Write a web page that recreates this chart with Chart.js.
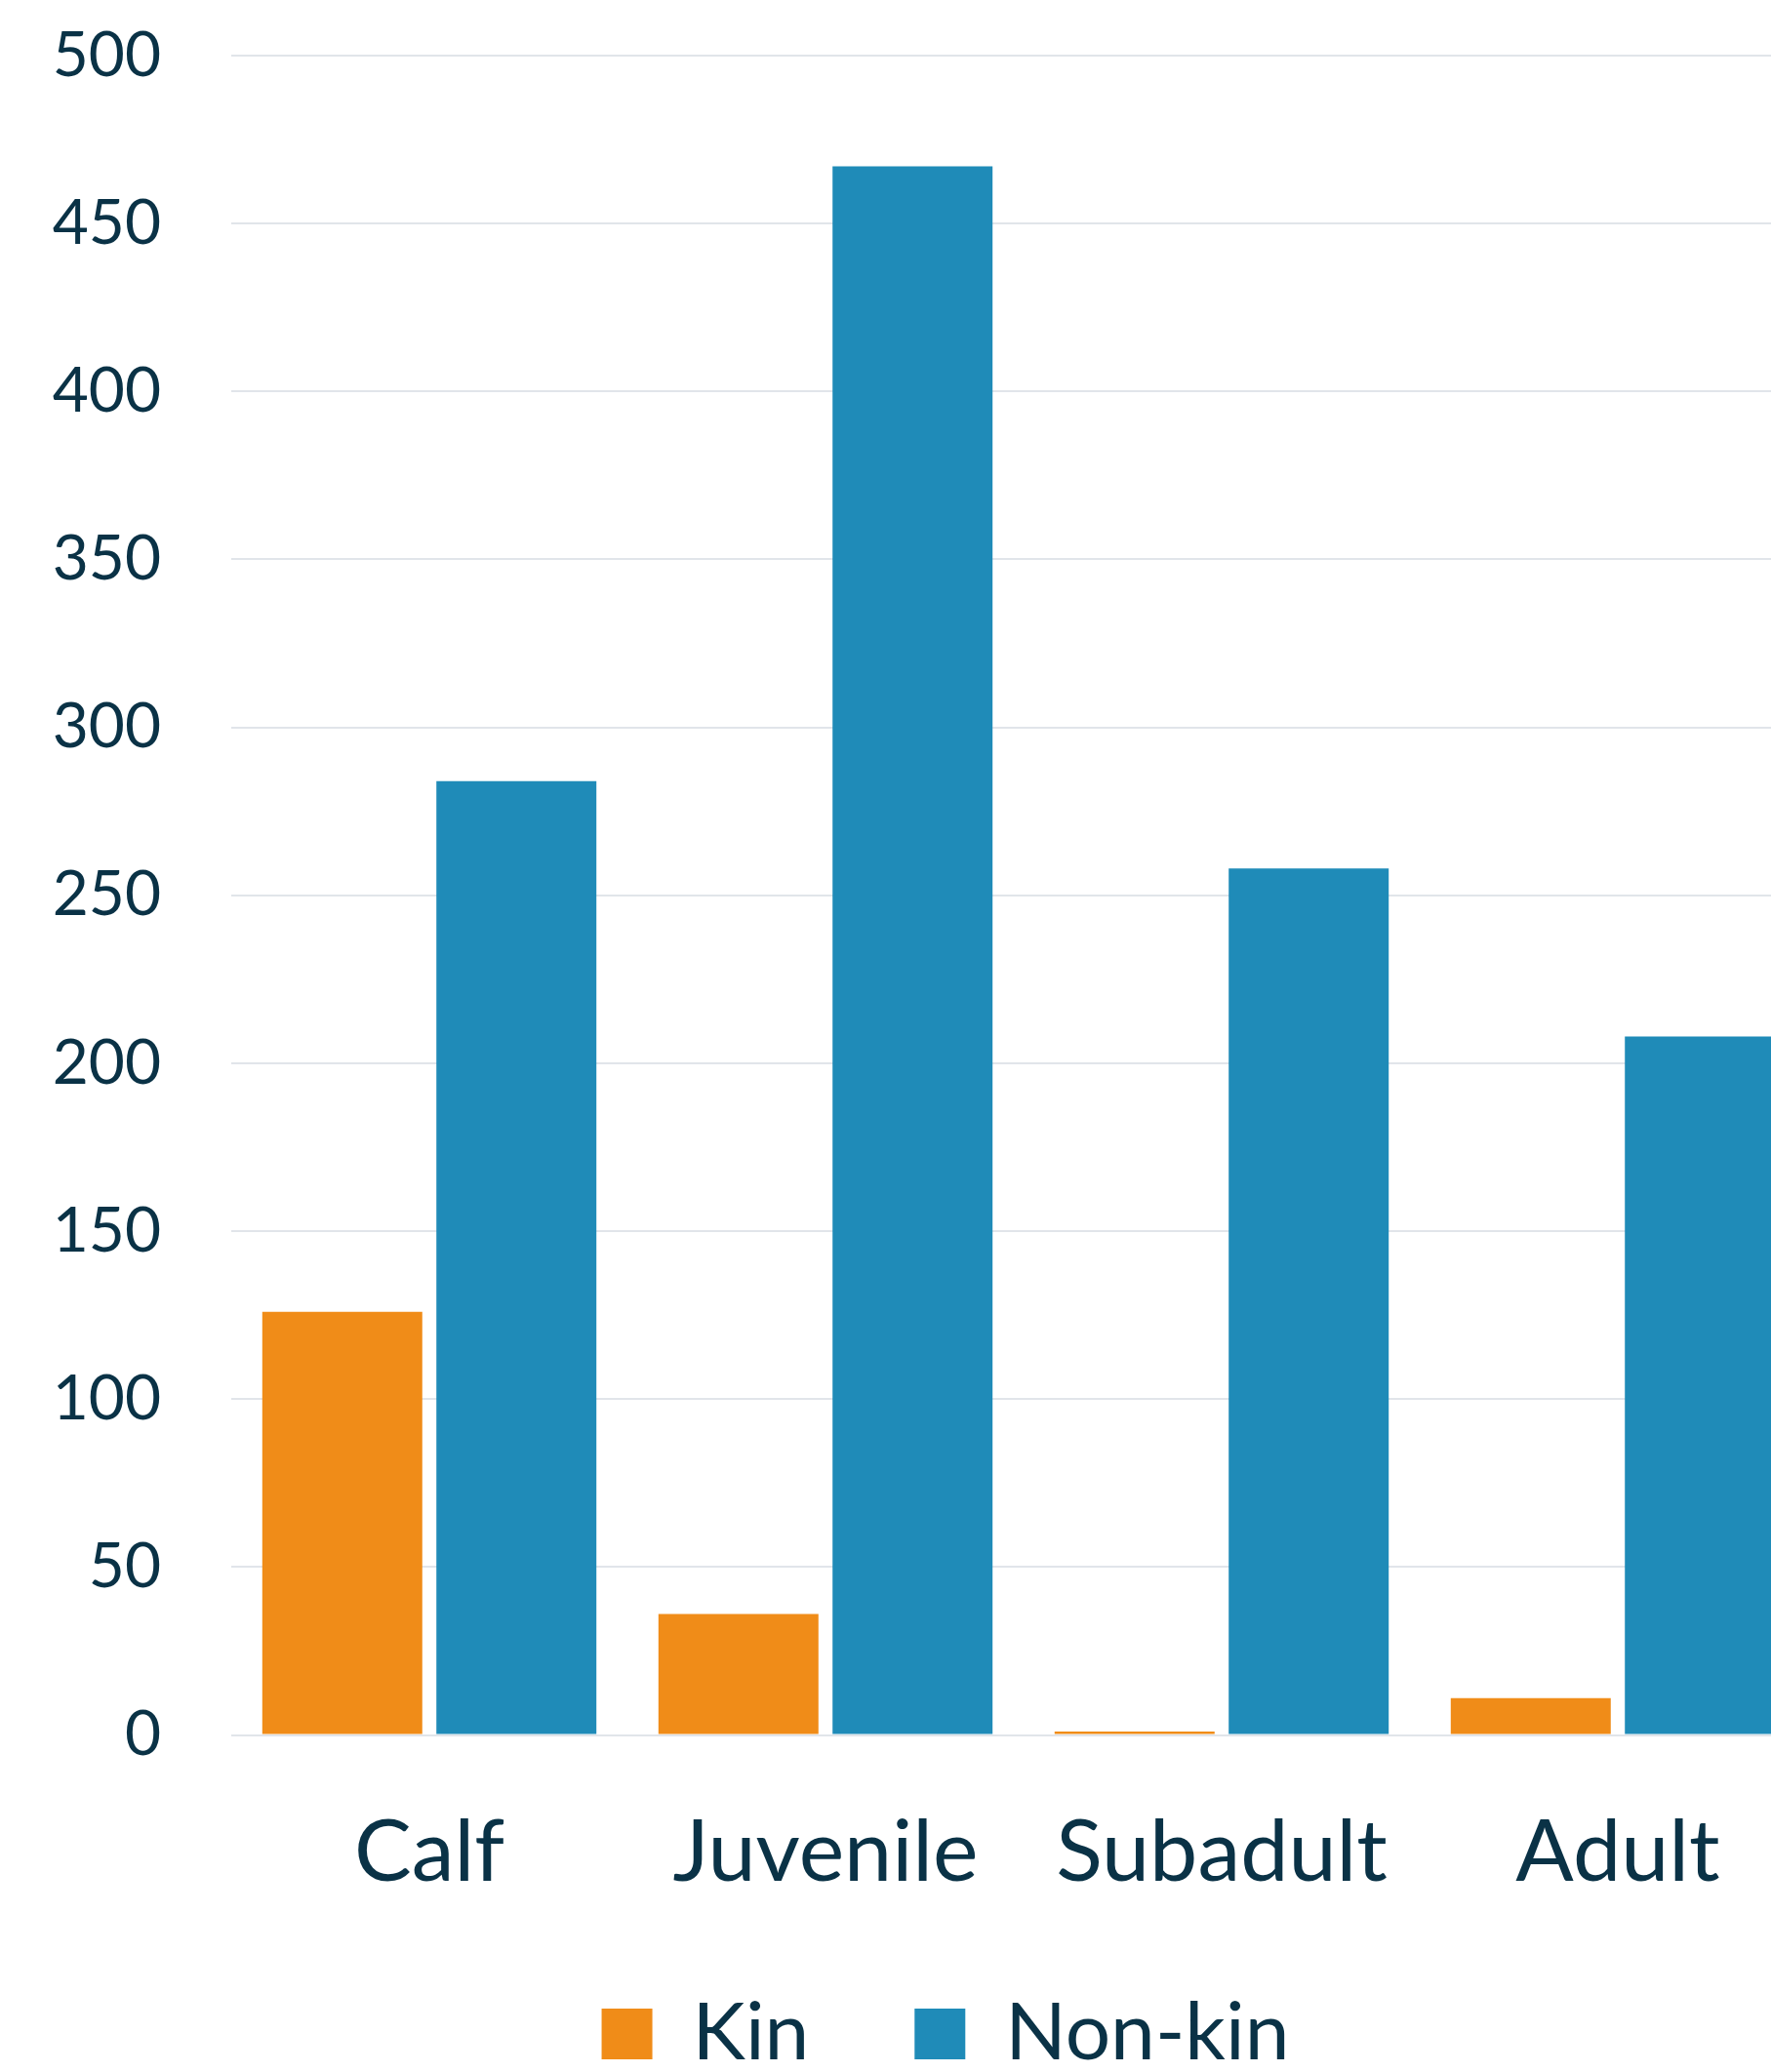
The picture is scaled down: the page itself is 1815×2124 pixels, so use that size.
<!DOCTYPE html>
<html>
<head>
<meta charset="utf-8">
<script src="https://cdn.jsdelivr.net/npm/chart.js@4.4.1/dist/chart.umd.min.js"></script>
<style>
    html, body { margin: 0; padding: 0; background: #ffffff; overflow: hidden; }
    #wrap { position: absolute; left: 0; top: 0; width: 1938px; height: 2124px; }
</style>
</head>
<body>
<div id="wrap"><canvas id="graficoParentesco"></canvas></div>
<script>
// categorias e valores
var categorias = ["Calf", "Juvenile", "Subadult", "Adult"];
var valoresKin = [126, 36, 1, 11];
var valoresNonKin = [284, 467, 258, 208];
var ticksY = [0, 50, 100, 150, 200, 250, 300, 350, 400, 450, 500];

var corTexto = "#0a3246";
var corLaranja = "#f08c18";
var corAzul = "#1f8bb8";

document.addEventListener('DOMContentLoaded', function () {
    Chart.defaults.font.family = "Lato, 'Open Sans', sans-serif";
    Chart.defaults.color = corTexto;

    var dados = {
        labels: categorias,
        datasets: [{
            label: "Kin",
            backgroundColor: corLaranja,
            borderWidth: 0,
            data: valoresKin
        }, {
            label: "Non-kin",
            backgroundColor: corAzul,
            borderWidth: 0,
            data: valoresNonKin
        }]
    };

    var opcoes = {
        responsive: true,
        maintainAspectRatio: false,
        animation: false,
        devicePixelRatio: 1,
        categoryPercentage: 0.879,
        barPercentage: 0.919,
        layout: {
            padding: { left: 0, right: 0, top: 57, bottom: -12 }
        },
        plugins: {
            tooltip: { enabled: false },
            legend: {
                position: 'bottom',
                labels: {
                    boxWidth: 52,
                    boxHeight: 52,
                    padding: 24,
                    color: corTexto,
                    font: { size: 82 },
                    generateLabels: function (grafico) {
                        var itens = Chart.defaults.plugins.legend.labels.generateLabels(grafico);
                        // espaco extra depois de "Kin" para afastar o segundo item
                        if (itens.length > 1) itens[0].text = itens[0].text + "    ";
                        return itens;
                    }
                }
            }
        },
        scales: {
            x: {
                grid: { display: false, drawTicks: false },
                border: { display: false },
                ticks: {
                    padding: 82,
                    color: corTexto,
                    font: { size: 88, lineHeight: 0.88 }
                }
            },
            y: {
                min: 0,
                max: 500,
                afterBuildTicks: function (escala) {
                    escala.ticks = ticksY.map(function (v) { return { value: v }; });
                },
                afterFit: function (escala) {
                    escala.width = 237;
                },
                grid: {
                    color: "#e1e5ea",
                    lineWidth: 2,
                    drawTicks: true,
                    tickLength: 69,
                    tickColor: "rgba(0,0,0,0)"
                },
                border: { display: false },
                ticks: {
                    padding: 3,
                    color: corTexto,
                    font: { size: 64 }
                }
            },
            // eixo vazio a direita: a area do grafico passa da borda da janela
            yDireita: {
                type: 'linear',
                position: 'right',
                grid: { display: false },
                border: { display: false },
                ticks: { display: false },
                afterFit: function (escala) {
                    escala.width = 77;
                }
            }
        }
    };

    var contexto = document.getElementById('graficoParentesco').getContext('2d');
    var grafico = new Chart(contexto, {
        type: 'bar',
        data: dados,
        options: opcoes
    });
});
</script>
</body>
</html>
